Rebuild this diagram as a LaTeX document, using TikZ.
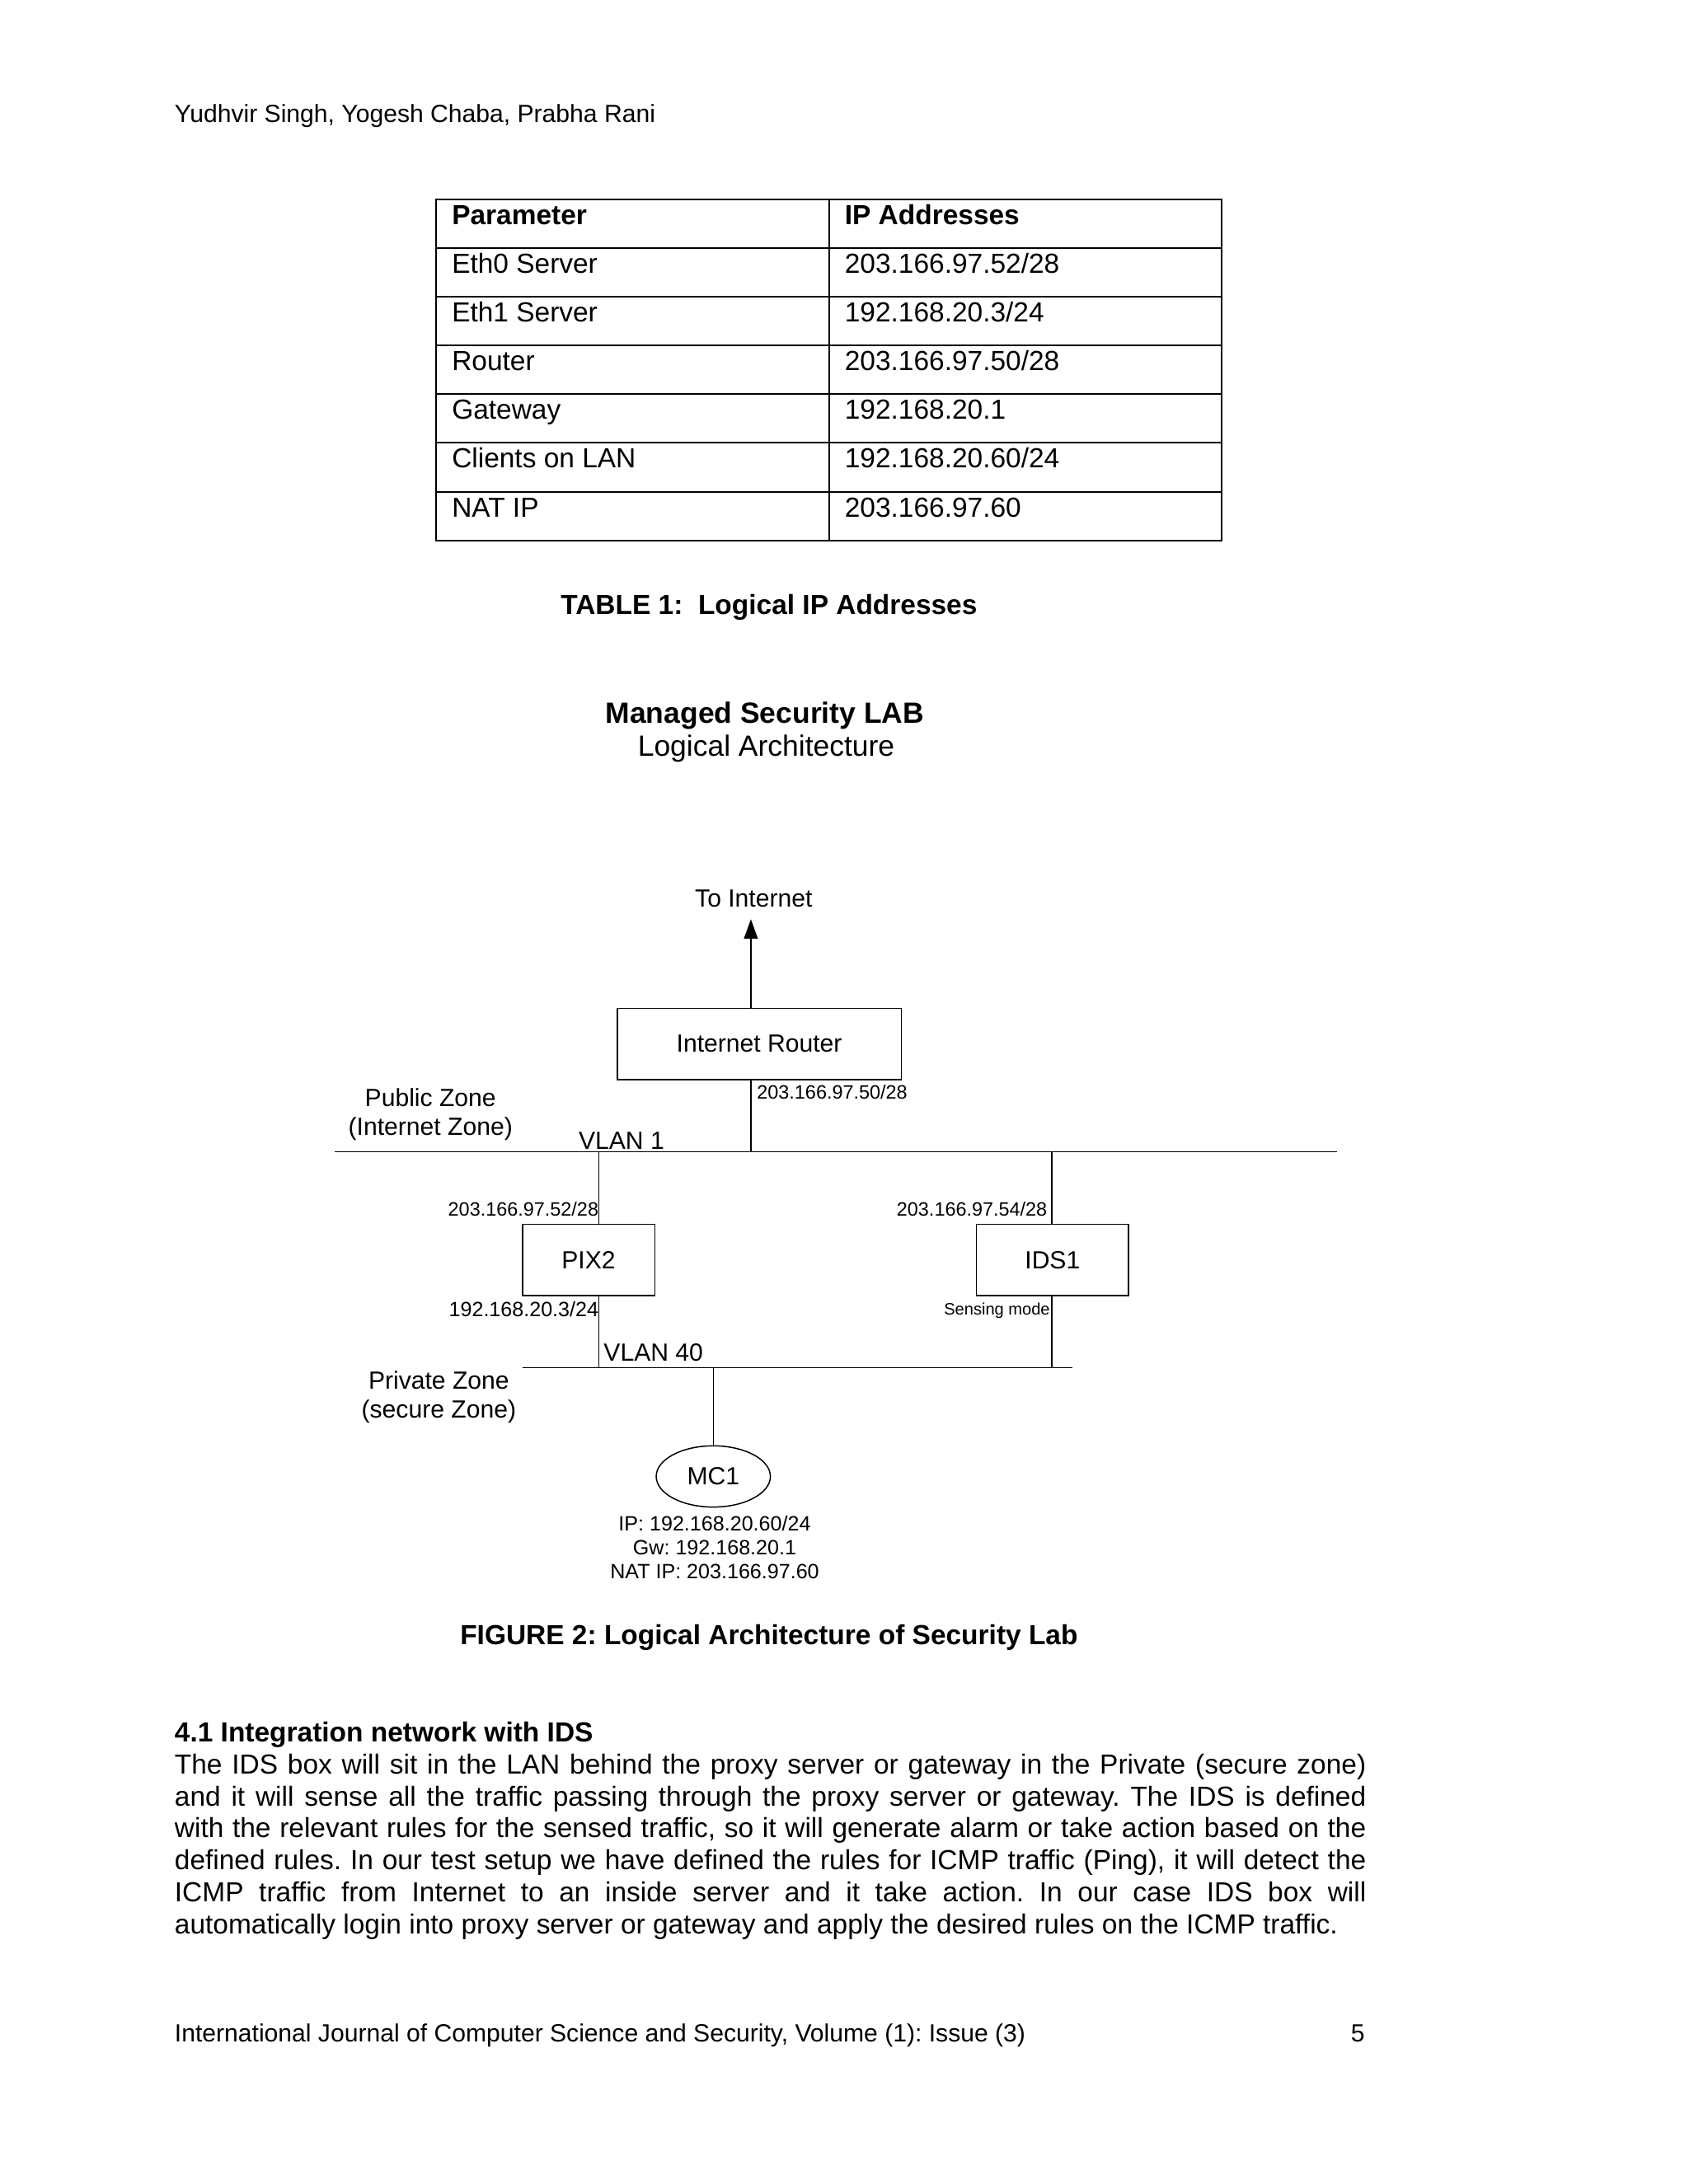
\documentclass[tikz,border=0pt]{standalone}
\usepackage{fontspec}
\setmainfont{Liberation Sans}
\usetikzlibrary{arrows.meta,positioning,shapes.geometric}
\frenchspacing

\begin{document}
\begin{tikzpicture}[x=0.5051pt,y=-0.5051pt,
every node/.style={inner sep=0pt},
txt/.style={font=\fontsize{10}{11.6}\selectfont},
bld/.style={font=\bfseries\fontsize{10}{11.6}\selectfont},
run/.style={font=\fontsize{9}{10.6}\selectfont},
lbl/.style={font=\fontsize{9}{10.6}\selectfont},
addr/.style={font=\fontsize{7}{8}\selectfont},
dev/.style={draw,line width=.45pt,minimum height=25.8pt,font=\fontsize{9}{10.6}\selectfont},
wire/.style={line width=.45pt},
tbl/.style={line width=.6pt}]
\useasboundingbox (0,0) rectangle (1212,1568);
\fill[white] (0,0) rectangle (1212,1568);

% running head
\node[run,anchor=base west] (head) at (125,88) {Yudhvir Singh, Yogesh Chaba, Prabha Rani};

% table 1
\draw[tbl] (313,143) rectangle (877,388);
\draw[tbl] (595,143) -- (595,388);
\foreach \y in {178,213,248,283,318,353}
  \draw[tbl] (313,\y) -- (877,\y);
\node[bld,anchor=base west] (p0) at (324,161) {Parameter};
\node[bld,anchor=base west] (a0) at (606,161) {IP Addresses};
\node[txt,anchor=base west] (p1) at (324,196) {Eth0 Server};
\node[txt,anchor=base west] (a1) at (606,196) {203.166.97.52/28};
\node[txt,anchor=base west] (p2) at (324,231) {Eth1 Server};
\node[txt,anchor=base west] (a2) at (606,231) {192.168.20.3/24};
\node[txt,anchor=base west] (p3) at (324,266) {Router};
\node[txt,anchor=base west] (a3) at (606,266) {203.166.97.50/28};
\node[txt,anchor=base west] (p4) at (324,301) {Gateway};
\node[txt,anchor=base west] (a4) at (606,301) {192.168.20.1};
\node[txt,anchor=base west] (p5) at (324,336) {Clients on LAN};
\node[txt,anchor=base west] (a5) at (606,336) {192.168.20.60/24};
\node[txt,anchor=base west] (p6) at (324,371) {NAT IP};
\node[txt,anchor=base west] (a6) at (606,371) {203.166.97.60};
\node[bld,anchor=base] (tabcap) at (552,441) {TABLE 1:\ \ Logical IP Addresses};

% figure 2
\node[anchor=base,font=\bfseries\fontsize{10.6}{12}\selectfont] (title) at (549,519) {Managed Security LAB};
\node[anchor=base,font=\fontsize{10.6}{12}\selectfont] (subtitle) at (550,543) {Logical Architecture};

\node[lbl,anchor=base] (inettxt) at (541,651) {To Internet};
\coordinate (inet) at (539,660);
\node[dev,minimum width=103pt] (rtr) at (545,749.5) {Internet Router};
\node[dev,minimum width=48pt] (pix) at (422.5,904.5) {PIX2};
\node[dev,minimum width=55.1pt] (ids) at (755.5,904.5) {IDS1};
\node[draw,ellipse,line width=.45pt,minimum width=41.4pt,minimum height=22.2pt,
  font=\fontsize{9}{10.6}\selectfont] (mc) at (512,1060) {MC1};

% VLAN 1 and VLAN 40
\coordinate (v1w) at (240,827);
\coordinate (v1e) at (960,827);
\coordinate (v40w) at (375,982);
\coordinate (v40e) at (770,982);
\coordinate (pixup) at (430,827);
\coordinate (pixdn) at (430,982);
\coordinate (idsup) at (755,827);
\coordinate (idsdn) at (755,982);
\coordinate (mcup) at (512,982);
\draw[wire] (v1w) -- (v1e);
\draw[wire] (v40w) -- (v40e);
\draw[wire,-{Triangle[length=7pt,width=5pt]}] (rtr.north -| inet) -- (inet);
\draw[wire] (rtr.south -| inet) -- (inet |- v1w);
\draw[wire] (pixup) -- (pixup |- pix.north);
\draw[wire] (pixdn |- pix.south) -- (pixdn);
\draw[wire] (idsup) -- (idsup |- ids.north);
\draw[wire] (idsdn |- ids.south) -- (idsdn);
\draw[wire] (mcup) -- (mc.north);

\node[addr,anchor=base west] (rtrip) at (543,789) {203.166.97.50/28};
\node[addr,anchor=base east] (pixip1) at (430,873) {203.166.97.52/28};
\node[addr,anchor=base east] (idsip) at (752,873) {203.166.97.54/28};
\node[anchor=base east,font=\fontsize{7.5}{8.6}\selectfont] (pixip2) at (430,945) {192.168.20.3/24};
\node[anchor=base east,font=\fontsize{6}{7}\selectfont] (sense) at (754,944) {Sensing mode};
\node[lbl,anchor=base west] (vlan1) at (415,825) {VLAN 1};
\node[lbl,anchor=base west] (vlan40) at (433,977) {VLAN 40};
\node[lbl,align=center] (pubz) at (309,800) {Public Zone\\(Internet Zone)};
\node[lbl,align=center] (privz) at (315,1003) {Private Zone\\(secure Zone)};
\node[anchor=north,align=center,font=\fontsize{7.5}{8.6}\selectfont] (mcip) at (513,1088)
  {IP: 192.168.20.60/24\\Gw: 192.168.20.1\\NAT IP: 203.166.97.60};
\node[bld,anchor=base] (figcap) at (552,1181) {FIGURE 2: Logical Architecture of Security Lab};

% section 4.1
\node[txt,anchor=north west,text width=432pt,align=justify] (sec) at (125,1234)
  {\strut\textbf{4.1 Integration network with IDS}\\
  \hyphenpenalty=10000 The IDS box will sit in the LAN behind the proxy server or gateway in the Private (secure zone)\linebreak
  and it will sense all the traffic passing through the proxy server or gateway. The IDS is defined\linebreak
  with the relevant rules for the sensed traffic, so it will generate alarm or take action based on the\linebreak
  defined rules. In our test setup we have defined the rules for ICMP traffic (Ping), it will detect the\linebreak
  ICMP traffic from Internet to an inside server and it take action. In our case IDS box will\linebreak
  automatically login into proxy server or gateway and apply the desired rules on the ICMP traffic.};

% footer
\node[run,anchor=base west] (foot) at (125,1466) {International Journal of Computer Science and Security, Volume (1): Issue (3)};
\node[run,anchor=base east] (page) at (980,1466) {5};
\end{tikzpicture}
\end{document}
